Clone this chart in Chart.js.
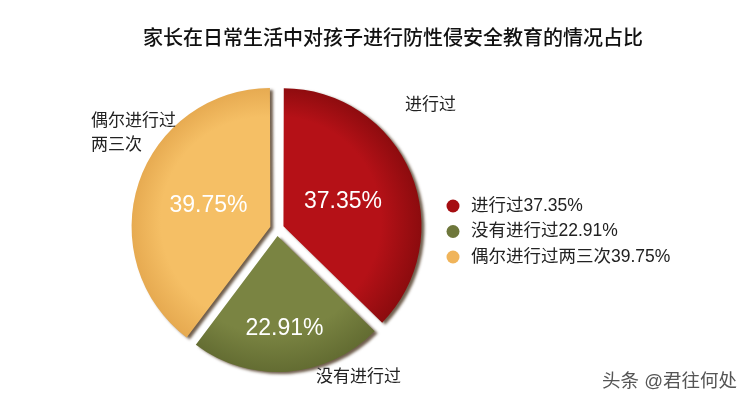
<!DOCTYPE html>
<html>
<head>
<meta charset="utf-8">
<script src="https://cdn.jsdelivr.net/npm/chart.js@4/dist/chart.umd.min.js"></script>
<style>
html, body { margin: 0; padding: 0; background: #fff; }
</style>
</head>
<body>
<canvas id="chart" width="750" height="404"></canvas>
<script>
// data
var categories = ['进行过', '没有进行过', '偶尔进行过两三次'];
var values = [37.35, 22.91, 39.75];
var outerLabels = [['进行过'], ['没有进行过'], ['偶尔进行过', '两三次']];
var chartTitle = '家长在日常生活中对孩子进行防性侵安全教育的情况占比';
var watermark = '头条 @君往何处';

// styles
var lightColors = ['#b51117', '#7a8442', '#f5bf65'];
var darkColors = ['#820a0c', '#5c652d', '#e2a44b'];
var legendColors = ['#a50d11', '#6e773b', '#f0b45a'];
var valueRadius = [0.475, 0.68, 0.48];
var outerPos = [[405, 105], [316, 377], [91, 121]];
var FONT = '"Liberation Sans", "Noto Sans CJK SC", sans-serif';
// chart.js draws arcs offset / 4 pixels out
var OFFSET = 28;

function sliceFill(ctx) {
    var chart = ctx.chart
    var i = ctx.dataIndex
    var area = chart.chartArea
    if (!area) return lightColors[i]
    var cx = (area.left + area.right) / 2
    var cy = (area.top + area.bottom) / 2
    var g = chart.ctx.createRadialGradient(cx - 20, cy - 20, 0, cx, cy, 148)
    g.addColorStop(0, lightColors[i])
    g.addColorStop(0.7, lightColors[i])
    g.addColorStop(1, darkColors[i])
    return g
}

var shadowPlugin = {
    id: 'shadow',
    beforeDatasetsDraw: function (chart) {
        var c = chart.ctx
        c.save()
        c.shadowColor = 'rgba(50, 25, 0, 0.7)'
        c.shadowBlur = 3
        c.shadowOffsetX = 3
        c.shadowOffsetY = 2
    },
    afterDatasetsDraw: function (chart) {
        chart.ctx.restore()
    }
};

var textPlugin = {
    id: 'texts',
    afterDraw: function (chart) {
        var c = chart.ctx
        c.save()
        // title
        c.fillStyle = '#111'
        c.font = '500 20px "Noto Sans CJK SC", sans-serif'
        c.textAlign = 'center'
        c.textBaseline = 'middle'
        c.fillText(chartTitle, 393, 37)

        // values inside slices
        var arcs = chart.getDatasetMeta(0).data
        c.fillStyle = '#fff'
        c.font = '23px ' + FONT
        for (var i = 0; i < arcs.length; i++) {
            var a = arcs[i]
            var p = a.getProps(['x', 'y', 'startAngle', 'endAngle', 'outerRadius'], true)
            var mid = (p.startAngle + p.endAngle) / 2
            var d = p.outerRadius * valueRadius[i] + a.options.offset / 4
            c.fillText(values[i].toFixed(2) + '%', p.x + Math.cos(mid) * d, p.y + Math.sin(mid) * d)
        }

        // outer labels
        c.fillStyle = '#222'
        c.font = '17px ' + FONT
        c.textAlign = 'left'
        for (var j = 0; j < outerLabels.length; j++) {
            for (var k = 0; k < outerLabels[j].length; k++) {
                c.fillText(outerLabels[j][k], outerPos[j][0], outerPos[j][1] + k * 24)
            }
        }

        // legend
        c.font = '17.5px ' + FONT
        for (var m = 0; m < categories.length; m++) {
            var y = 206 + m * 25.5
            c.beginPath()
            c.arc(453, y, 6.5, 0, Math.PI * 2)
            c.fillStyle = legendColors[m]
            c.fill()
            c.fillStyle = '#222'
            c.fillText(categories[m] + values[m].toFixed(2) + '%', 471, y)
        }

        // watermark
        c.fillStyle = '#555'
        c.font = '18.5px ' + FONT
        c.fillText(watermark, 602, 382)
        c.restore()
    }
};

var chart = new Chart(document.getElementById('chart'), {
    type: 'pie',
    data: {
        labels: categories,
        datasets: [{
            data: values,
            backgroundColor: sliceFill,
            borderWidth: 0,
            offset: OFFSET,
            hoverOffset: OFFSET,
            clip: false
        }]
    },
    options: {
        responsive: false,
        animation: false,
        radius: 136,
        layout: { padding: { left: 127, right: 323, top: 79, bottom: 25 } },
        plugins: {
            legend: { display: false },
            tooltip: { enabled: false }
        }
    },
    plugins: [shadowPlugin, textPlugin]
});
</script>
</body>
</html>
